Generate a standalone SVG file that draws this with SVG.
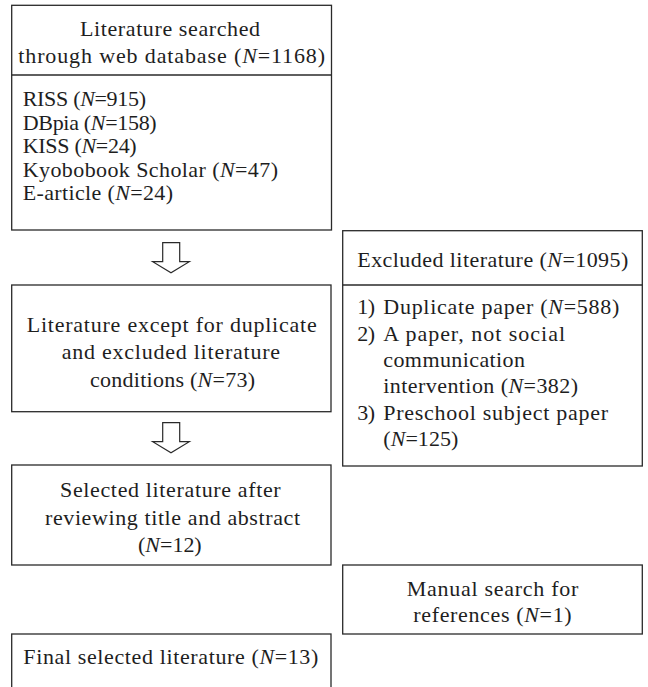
<svg xmlns="http://www.w3.org/2000/svg" width="648" height="687" viewBox="0 0 648 687">
<style>
  .box { fill: #ffffff; stroke: #2a2a2a; stroke-width: 1.3; }
  .div { stroke: #2a2a2a; stroke-width: 1.3; }
  text { font-family: "Liberation Serif", "Times New Roman", serif; font-size: 22px; fill: #1e1e1e; }
  .i { font-style: italic; }
  .arrow { fill: #ffffff; stroke: #2a2a2a; stroke-width: 1.2; stroke-linejoin: miter; }
</style>
<rect width="648" height="687" fill="#ffffff"/>

<g id="connectors">
  <polygon class="arrow" points="162.7,242.7 179.7,242.7 179.7,261.7 189.3,261.7 171,272.7 152.7,261.7 162.7,261.7"/>
  <polygon class="arrow" points="162.7,422.7 179.7,422.7 179.7,441.7 189.3,441.7 171,452.7 152.7,441.7 162.7,441.7"/>
</g>

<g id="node-search">
  <rect class="box" x="11.7" y="5.3" width="319.8" height="224.7"/>
  <line class="div" x1="11.7" y1="75" x2="331.5" y2="75"/>
  <text x="80" y="36" textLength="180" lengthAdjust="spacing">Literature searched</text>
  <text x="18.3" y="63.3" textLength="306.7" lengthAdjust="spacing">through web database (<tspan class="i">N</tspan>=1168)</text>
  <text x="22.7" y="106" textLength="123.3" lengthAdjust="spacing">RISS (<tspan class="i">N</tspan>=915)</text>
  <text x="22.7" y="129.5" textLength="134" lengthAdjust="spacing">DBpia (<tspan class="i">N</tspan>=158)</text>
  <text x="22.7" y="153" textLength="114" lengthAdjust="spacing">KISS (<tspan class="i">N</tspan>=24)</text>
  <text x="22.7" y="176.5" textLength="255.3" lengthAdjust="spacing">Kyobobook Scholar (<tspan class="i">N</tspan>=47)</text>
  <text x="22.7" y="200" textLength="150.3" lengthAdjust="spacing">E-article (<tspan class="i">N</tspan>=24)</text>
</g>

<g id="node-except">
  <rect class="box" x="11.7" y="285" width="319.3" height="126.7"/>
  <text x="26.7" y="331.7" textLength="290" lengthAdjust="spacing">Literature except for duplicate</text>
  <text x="61.7" y="359.3" textLength="218.3" lengthAdjust="spacing">and excluded literature</text>
  <text x="90" y="386.7" textLength="165" lengthAdjust="spacing">conditions (<tspan class="i">N</tspan>=73)</text>
</g>

<g id="node-selected">
  <rect class="box" x="11.7" y="465" width="319.3" height="100"/>
  <text x="60" y="497.3" textLength="220.7" lengthAdjust="spacing">Selected literature after</text>
  <text x="45" y="525" textLength="255" lengthAdjust="spacing">reviewing title and abstract</text>
  <text x="138" y="551.7" textLength="63.7" lengthAdjust="spacing">(<tspan class="i">N</tspan>=12)</text>
</g>

<g id="node-final">
  <rect class="box" x="11.7" y="634" width="319.3" height="70"/>
  <text x="23.3" y="664" textLength="295" lengthAdjust="spacing">Final selected literature (<tspan class="i">N</tspan>=13)</text>
</g>

<g id="node-excluded">
  <rect class="box" x="342.7" y="230.7" width="299.6" height="235.3"/>
  <line class="div" x1="342.7" y1="285" x2="642.3" y2="285"/>
  <text x="357.3" y="266.5" textLength="271" lengthAdjust="spacing">Excluded literature (<tspan class="i">N</tspan>=1095)</text>
  <text x="357.3" y="314" textLength="17.7" lengthAdjust="spacing">1)</text>
  <text x="383.3" y="314" textLength="236" lengthAdjust="spacing">Duplicate paper (<tspan class="i">N</tspan>=588)</text>
  <text x="357.3" y="340.5" textLength="17.7" lengthAdjust="spacing">2)</text>
  <text x="383.3" y="340.5" textLength="181.7" lengthAdjust="spacing">A paper, not social</text>
  <text x="383.3" y="367" textLength="141.7" lengthAdjust="spacing">communication</text>
  <text x="383.3" y="393" textLength="194.7" lengthAdjust="spacing">intervention (<tspan class="i">N</tspan>=382)</text>
  <text x="357.3" y="419.5" textLength="17.7" lengthAdjust="spacing">3)</text>
  <text x="383.3" y="419.5" textLength="224.7" lengthAdjust="spacing">Preschool subject paper</text>
  <text x="383.3" y="446" textLength="75" lengthAdjust="spacing">(<tspan class="i">N</tspan>=125)</text>
</g>

<g id="node-manual">
  <rect class="box" x="342.7" y="565" width="299.6" height="69"/>
  <text x="406.7" y="595.7" textLength="171.7" lengthAdjust="spacing">Manual search for</text>
  <text x="413.3" y="621.7" textLength="158.3" lengthAdjust="spacing">references (<tspan class="i">N</tspan>=1)</text>
</g>
</svg>
